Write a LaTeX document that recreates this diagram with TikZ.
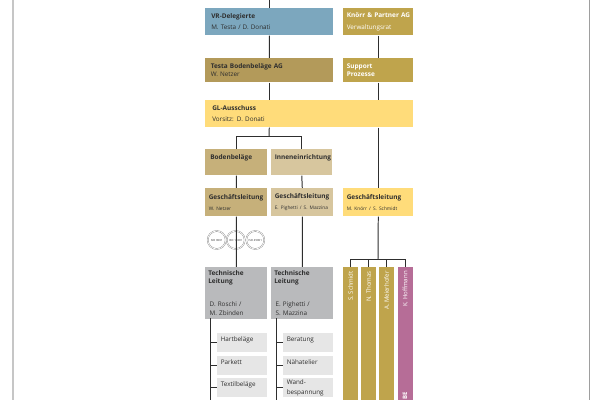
\documentclass[tikz,border=0pt]{standalone}
\usepackage{fontspec}
\setmainfont{Open Sans}
\usetikzlibrary{calc}
\definecolor{vrblue}{HTML}{7CA7BE}
\definecolor{gold}{HTML}{BFA44C}
\definecolor{testabrown}{HTML}{B39A5A}
\definecolor{glyellow}{HTML}{FFDC7A}
\definecolor{bodentan}{HTML}{C6B07A}
\definecolor{innentan}{HTML}{D7C69E}
\definecolor{techgray}{HTML}{B9BABC}
\definecolor{sublight}{HTML}{E6E6E6}
\definecolor{mauve}{HTML}{B66D97}
\definecolor{inkdark}{HTML}{2E2E2E}
\definecolor{pagegray}{HTML}{C6C6C6}
\newcommand{\hd}[1]{\mbox{\bfseries\fontsize{4.6}{5.8}\selectfont #1}}
\newcommand{\sm}[1]{\mbox{\fontsize{3.4}{5}\selectfont #1}}
\tikzset{
    box/.style n args={4}{anchor=north west,fill=#1,minimum height=#3*0.025cm,
      inner xsep=#4*0.025cm,inner ysep=0pt,text width={(#2-2*#4)*0.025cm},align=left,
      text=inkdark,font=\fontsize{4.5}{5.6}\selectfont},
    subbox/.style={box={sublight}{50}{19}{3.5}},
    barbox/.style={anchor=north west,fill=#1,minimum width=15*0.025cm,minimum height=133*0.025cm,inner sep=0pt},
    barlabel/.style={rotate=90,anchor=east,text=white,inner sep=0pt,font=\fontsize{4.3}{5}\selectfont},
    seal/.style={circle,draw=gray,line width=0.25pt,double,double distance=0.5pt,fill=white,
      minimum size=18*0.025cm,inner sep=0pt,text=inkdark,font=\fontsize{2}{2}\selectfont},
    conn/.style={draw=inkdark,line width=0.7pt}
}
\begin{document}
\begin{tikzpicture}[x=0.025cm,y=-0.025cm]
  \useasboundingbox (0,0) rectangle (600,400);
  \fill[pagegray] (12,0) rectangle (14,400);
  \fill[pagegray!80!black] (589,0) rectangle (590.3,400);

  \coordinate (topL) at (269,0);
  \coordinate (busL) at (269,136);
  \coordinate (busR) at (378,259.5);

  \node[box={vrblue}{128}{27}{6}] (vr) at (205,8) {\hd{VR-Delegierte}\\[2.4pt]M. Testa / D. Donati};
  \node[box={gold}{70}{27}{3.5},text=white] (kp) at (343,8) {\hd{Knörr \& Partner AG}\\[2.4pt]Verwaltungsrat};
  \node[box={testabrown}{128}{24}{5.5}] (testa) at (205,58) {\hd{Testa Bodenbeläge AG}\\W. Netzer};
  \node[box={gold}{70}{24}{3.5},text=white] (sup) at (343,58) {\hd{Support}\\\hd{Prozesse}};
  \node[box={glyellow}{207.5}{27}{7}] (gl) at (205,100) {\hd{GL-Ausschuss}\\[2.4pt]Vorsitz: D. Donati};

  \node[box={bodentan}{62}{26}{5}] (boden) at (205,149) {\hd{Bodenbeläge}\\[2pt]\mbox{}};
  \node[box={innentan}{61}{26}{3.5}] (innen) at (271,149) {\hd{Inneneinrichtung}\\[2pt]\mbox{}};
  \node[box={bodentan}{62}{28}{3.5}] (gfL) at (205,188) {\hd{Geschäftsleitung}\\[2.4pt]\sm{W. Netzer}};
  \node[box={innentan}{62}{28}{3.5}] (gfM) at (271,188) {\hd{Geschäftsleitung}\\[2.4pt]\sm{E. Pighetti / S. Mazzina}};
  \node[box={glyellow}{70}{28}{3.5}] (gfR) at (343,188) {\hd{Geschäftsleitung}\\[2.4pt]\sm{M. Knörr / S. Schmidt}};

  \node[seal] (isoA) at (216.7,240) {ISO 9001};
  \node[seal] (isoB) at (235.7,240) {ISO 14001};
  \node[seal] (isoC) at (255.3,240) {ISO 45001};

  \node[box={techgray}{62}{51.5}{3}] (techL) at (205,267) {\hd{Technische}\\\hd{Leitung}\\[11pt]\hspace{1pt}D. Roschi /\\[1pt]\hspace{1pt}M. Zbinden};
  \node[box={techgray}{62}{51.5}{3}] (techM) at (271,267) {\hd{Technische}\\\hd{Leitung}\\[11pt]\hspace{1pt}E. Pighetti /\\[1pt]\hspace{1pt}S. Mazzina};

  \node[subbox] (hart) at (217,333) {Hartbeläge\\\mbox{}};
  \node[subbox] (park) at (217,356) {Parkett\\\mbox{}};
  \node[subbox] (text) at (217,378) {Textilbeläge\\\mbox{}};
  \node[subbox] (bera) at (283,333) {Beratung\\\mbox{}};
  \node[subbox] (naeh) at (283,356) {Nähatelier\\\mbox{}};
  \node[subbox] (wand) at (283,378) {Wand-\\[1pt]bespannung};

  \node[barbox=gold] (bar1) at (343,267) {};
  \node[barbox=gold] (bar2) at (361,267) {};
  \node[barbox=gold] (bar3) at (379,267) {};
  \node[barbox=mauve] (bar4) at (397.5,267) {};
  \node[barlabel] (lab1) at (350.5,271) {S. Schmidt};
  \node[barlabel] (lab2) at (368.5,271) {N. Thomas};
  \node[barlabel] (lab3) at (386.5,271) {A. Meierhofer};
  \node[barlabel] (lab4) at (405,271) {K. Hoffmann};
  \node[barlabel] (lab5) at (405,392) {\bfseries BE};

  \coordinate (spineL) at (210.7,318.5);
  \coordinate (spineLb) at (210.7,400);
  \coordinate (spineM) at (276,318.5);
  \coordinate (spineMb) at (276,400);

  \draw[conn] (topL) -- (vr.north -| topL);
  \draw[conn] (vr.south) -- (testa.north);
  \draw[conn] (testa.south) -- (testa.south |- gl.north);
  \draw[conn] (testa.south |- gl.south) -- (busL);
  \draw[conn] (busL) -| (boden.north);
  \draw[conn] (busL) -| (innen.north);
  \draw[conn] (boden.south) -- (gfL.north);
  \draw[conn] (innen.south) -- (gfM.north);
  \draw[conn] (gfL.south) -- (techL.north);
  \draw[conn] (gfM.south) -- (techM.north);

  \draw[conn] (kp.south) -- (sup.north);
  \draw[conn] (sup.south) -- (sup.south |- gl.north);
  \draw[conn] (sup.south |- gl.south) -- (gfR.north);
  \draw[conn] (gfR.south) -- (busR);
  \foreach \n in {1,...,4} \draw[conn] (busR) -| (bar\n.north);

  \draw[conn] (spineL) -- (spineLb);
  \draw[conn] (spineM) -- (spineMb);
  \foreach \n in {hart,park,text} \draw[conn] (\n.west -| spineL) -- (\n.west);
  \foreach \n in {bera,naeh,wand} \draw[conn] (\n.west -| spineM) -- (\n.west);
\end{tikzpicture}
\end{document}
